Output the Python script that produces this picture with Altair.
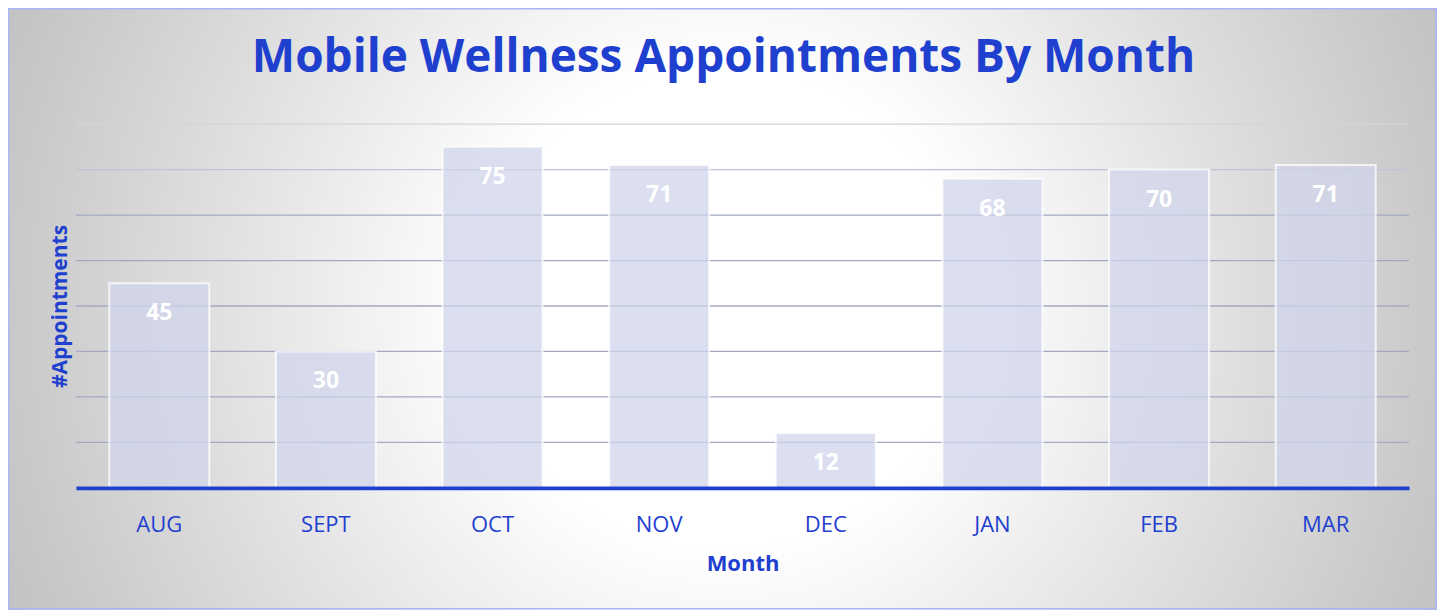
import altair as alt
import pandas as pd

# ---- data ----
months = ["AUG", "SEPT", "OCT", "NOV", "DEC", "JAN", "FEB", "MAR"]
appointments = [45, 30, 75, 71, 12, 68, 70, 71]
grid_values = [10, 20, 30, 40, 50, 60, 70, 80]

title_text = "Mobile Wellness Appointments By Month"
x_title = "Month"
y_title = "#Appointments"

BLUE = "#1f3fcf"
FONT = "Open Sans"
W, H = 1334, 364
BG_TOP = -616  # top of the square background panel (plot coords)

df = pd.DataFrame({"month": months, "value": appointments})
grid_df = pd.DataFrame({"v": grid_values})

x_enc = alt.X(
    "month:N",
    sort=months,
    scale=alt.Scale(paddingInner=0.4, paddingOuter=0.2),
    axis=alt.Axis(
        title=x_title,
        labelAngle=0,
        labelFont=FONT,
        labelFontSize=22,
        labelColor=BLUE,
        labelBaseline="alphabetic",
        labelPadding=44,
        ticks=False,
        tickSize=0,
        domainColor=BLUE,
        domainWidth=4,
        titleFont=FONT,
        titleFontSize=22,
        titleFontWeight="bold",
        titleColor=BLUE,
        titleBaseline="alphabetic",
        titleY=83,
        zindex=1,
    ),
)
y_scale = alt.Scale(domain=[0, 80], nice=False)
y_enc = alt.Y(
    "value:Q",
    scale=y_scale,
    axis=alt.Axis(
        title=y_title,
        grid=False,
        labels=False,
        ticks=False,
        domain=False,
        titleFont=FONT,
        titleFontSize=21,
        titleFontWeight="bold",
        titleColor=BLUE,
        titleBaseline="alphabetic",
        titleAngle=-90,
        titleX=-9,
        titleY=H / 2,
        zindex=1,
    ),
)

bg_gradient = alt.RadialGradient(
    gradient="radial",
    x1=0.5, y1=0.5, r1=0,
    x2=0.5, y2=0.5, r2=0.5,
    stops=[
        alt.GradientStop(offset=0, color="#ffffff"),
        alt.GradientStop(offset=0.3, color="#ffffff"),
        alt.GradientStop(offset=0.9, color="#c8c8c8"),
        alt.GradientStop(offset=1, color="#c0c0c0"),
    ],
)

background = alt.Chart(alt.Data(values=[{}])).mark_rect(fill=bg_gradient).encode(
    x=alt.value(-152), x2=alt.value(1448), y=alt.value(BG_TOP), y2=alt.value(BG_TOP + 1600)
)

frame = alt.Chart(alt.Data(values=[{}])).mark_rect(
    fillOpacity=0, stroke="#aab4fa", strokeWidth=1.5
).encode(
    x=alt.value(-67.5), x2=alt.value(W + 27), y=alt.value(-115.5), y2=alt.value(H + 121)
)

grid = alt.Chart(grid_df).mark_rule(strokeWidth=1.3).encode(
    y=alt.Y("v:Q", scale=y_scale),
    x=alt.value(0),
    x2=alt.value(W),
    stroke={
        "condition": [
            {"test": "datum.v >= 80", "value": "#d4d5da"},
            {"test": "datum.v >= 70", "value": "#c0c3d2"},
        ],
        "value": "#a3a9c5",
    },
)

bars = alt.Chart(df).mark_bar(
    fill="#cfd4ea", fillOpacity=0.75, stroke="#ffffff", strokeOpacity=0.75, strokeWidth=2
).encode(x=x_enc, y=y_enc)

labels = alt.Chart(df).mark_text(
    color="#ffffff", font=FONT, fontWeight="bold", fontSize=23,
    baseline="alphabetic", dy=37,
).encode(
    x=alt.X("month:N", sort=months),
    y=alt.Y("value:Q", scale=y_scale),
    text="value:Q",
)

# offset measured from the top of the group bounds (the background panel)
title_offset = BG_TOP + 6

chart = alt.layer(background, frame, grid, bars, labels).properties(
    width=W,
    height=H,
    title=alt.TitleParams(
        text=title_text,
        font=FONT,
        fontSize=46,
        fontWeight="bold",
        color=BLUE,
        anchor="middle",
        baseline="alphabetic",
        offset=title_offset,
        dx=-19,
    ),
    autosize=alt.AutoSizeParams(type="none"),
    padding={"left": 68, "top": 116, "right": 28, "bottom": 122},
    background="#ffffff",
).configure_view(stroke=None)

chart.save("out.html", embed_options={"renderer": "svg", "actions": False})
